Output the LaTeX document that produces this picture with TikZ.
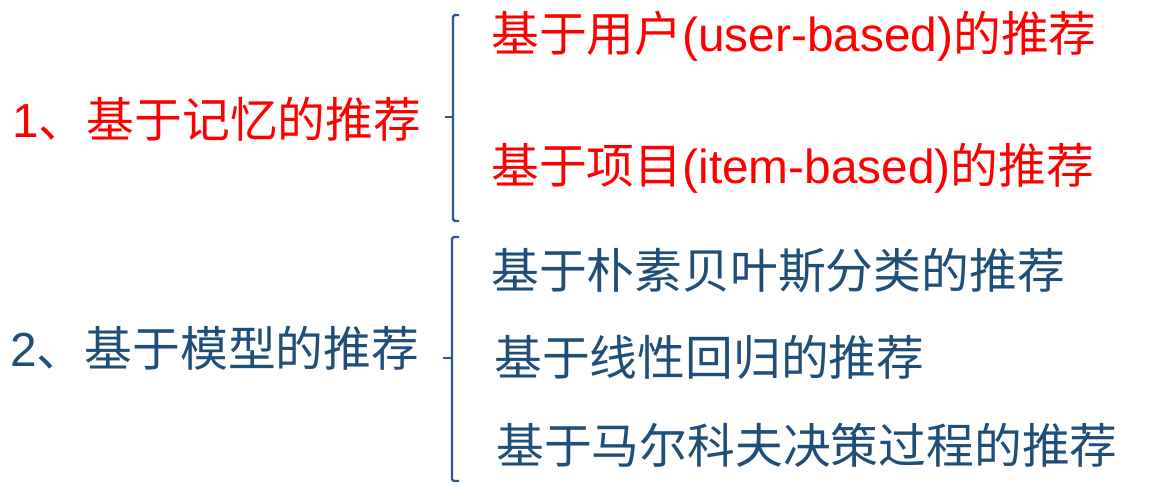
\documentclass[tikz,border=0pt]{standalone}
\usepackage{fontspec}
\setmainfont{Liberation Sans}
\newfontfamily\cjk{Noto Sans CJK SC}
\usetikzlibrary{positioning,calc}
\definecolor{rosso}{HTML}{FF0000}
\definecolor{blu}{HTML}{1F4E79}
\definecolor{blubrace}{HTML}{2B5A8A}
\tikzset{
  voce/.style   ={anchor=base west, inner sep=0pt, font=\fontsize{27.2}{32}\selectfont},
  gruppo/.style ={voce, text=rosso},
  modello/.style={voce, text=blu},
  graffa/.style ={draw=blubrace, line width=1.3pt, rounded corners=1pt}
}

\begin{document}
\begin{tikzpicture}[x=0.02cm, y=-0.02cm]
\useasboundingbox (0,0) rectangle (1154,484);

%GRUPPO 1
\node[gruppo](memoria) at (12,137) {1{\cjk 、基于记忆的推荐}};

\coordinate (G1a) at (459,15);
\coordinate (G1b) at (459,221);
\coordinate (G1m) at (445,117);

\draw[graffa] (G1a) -- ++(-6,0) |- (G1b);
\draw[graffa] ($(G1m)+(8,0)$) -- (G1m);

\node[gruppo](utente) at (491,51) {{\cjk 基于用户}(user-based){\cjk 的推荐}};
\node[gruppo](oggetto) at (491,183) {{\cjk 基于项目}(item-based){\cjk 的推荐}};

%GRUPPO 2
\node[modello](modello) at (10,366) {2{\cjk 、基于模型的推荐}};

\coordinate (G2a) at (459,237);
\coordinate (G2b) at (459,481);
\coordinate (G2m) at (443,358);

\draw[graffa] (G2a) -- ++(-7,0) |- (G2b);
\draw[graffa] ($(G2m)+(9,0)$) -- (G2m);

\node[modello](bayes) at (491,288) {\cjk 基于朴素贝叶斯分类的推荐};
\node[modello](lineare) at (494,375) {\cjk 基于线性回归的推荐};
\node[modello](markov) at (496,463) {\cjk 基于马尔科夫决策过程的推荐};

\end{tikzpicture}
\end{document}
